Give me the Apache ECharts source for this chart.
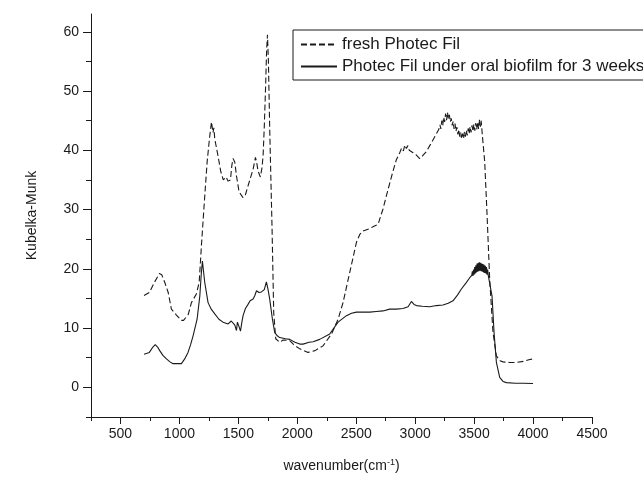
<!DOCTYPE html>
<html>
<head>
<meta charset="utf-8">
<script src="https://cdn.jsdelivr.net/npm/echarts@6/dist/echarts.min.js"></script>
<style>
html,body{margin:0;padding:0;background:#fff;}
#chart{width:643px;height:478px;}
</style>
</head>
<body>
<div id="chart"></div>
<script>
// ---- data ----
const seriesNames = ['fresh Photec Fil', 'Photec Fil under oral biofilm for 3 weeks'];

const xMajorTicks = [500, 1000, 1500, 2000, 2500, 3000, 3500, 4000, 4500];
const xMinorTicks = [250, 750, 1250, 1750, 2250, 2750, 3250, 3750, 4250];
const yMajorTicks = [0, 10, 20, 30, 40, 50, 60];
const yMinorTicks = [-5, 5, 15, 25, 35, 45, 55];

const freshX = [700,745,790,830,850,876,905,932,975,1015,1035,1075,1102,1145,1168,1187,1215,1235,1255,1272,1285,1292,1300,1328,1350,1372,1395,1413,1433,1445,1455,1470,1484,1506,1540,1560,1582,1625,1645,1655,1667,1687,1700,1710,1720,1730,1740,1747,1755,1766,1786,1800,1817,1851,1880,1936,1970,2021,2091,2106,2150,2218,2290,2346,2388,2445,2502,2530,2558,2615,2650,2685,2727,2770,2812,2840,2869,2885,2900,2912,2926,2938,2950,2966,2982,3010,3039,3060,3095,3130,3166,3200,3210,3218,3226,3234,3242,3250,3258,3266,3274,3282,3290,3298,3306,3314,3322,3330,3338,3346,3354,3362,3370,3378,3386,3394,3402,3410,3418,3426,3434,3442,3450,3458,3466,3474,3482,3490,3498,3506,3514,3522,3530,3538,3546,3554,3560,3570,3590,3609,3632,3660,3689,3720,3745,3800,3859,3920,3972,4000];
const freshY = [15.5,16.0,17.8,19.2,19.0,17.7,16.0,13.2,12.2,11.3,11.3,12.3,14.3,15.8,17.8,24.0,32.3,38.0,42.0,44.8,43.0,43.8,41.9,39.0,36.5,35.0,35.5,34.8,35.0,37.5,38.6,38.0,35.7,33.0,32.0,32.5,34.0,36.8,38.8,38.0,36.5,35.5,37.0,39.1,44.0,50.0,57.0,59.5,55.0,43.6,26.7,12.6,8.2,7.6,8.0,7.9,7.2,6.5,5.9,5.9,6.2,7.0,9.0,11.5,14.3,19.4,24.5,25.8,26.4,26.8,27.2,27.5,30.1,33.4,36.5,38.4,39.6,40.4,39.9,40.9,40.3,40.8,40.0,40.2,39.6,39.2,38.6,39.0,39.8,41.0,42.3,43.5,44.3,43.6,45.0,44.2,45.6,44.8,46.2,45.1,46.4,45.3,46.0,44.8,45.4,44.2,44.9,43.6,44.5,43.2,43.9,42.7,43.5,42.3,43.0,41.9,42.8,42.0,43.1,42.3,43.4,42.5,43.7,42.8,44.0,43.0,44.2,43.2,44.4,43.3,44.6,43.5,44.8,43.6,45.2,44.0,45.0,42.5,38.0,29.5,18.3,9.3,5.3,4.5,4.3,4.2,4.2,4.4,4.7,4.8];

const agedX = [700,745,775,795,815,833,860,890,920,946,985,1017,1045,1073,1095,1116,1150,1173,1185,1195,1205,1215,1243,1270,1300,1335,1370,1413,1440,1455,1470,1484,1492,1497,1505,1518,1530,1540,1560,1582,1600,1625,1640,1654,1675,1696,1720,1738,1752,1766,1789,1808,1830,1851,1900,1936,1980,2021,2049,2100,2134,2190,2275,2346,2417,2460,2502,2560,2615,2670,2727,2784,2841,2897,2940,2968,2990,3011,3060,3124,3180,3236,3280,3321,3360,3392,3430,3463,3480,3485,3490,3495,3500,3505,3510,3515,3520,3525,3530,3535,3540,3545,3550,3555,3560,3565,3570,3575,3580,3585,3590,3595,3600,3605,3610,3615,3620,3632,3652,3669,3689,3717,3745,3774,3850,3915,4000];
const agedY = [5.6,5.9,6.8,7.2,6.8,6.2,5.4,4.8,4.3,4.0,4.0,4.0,4.8,5.9,7.2,8.7,11.5,15.4,19.0,21.3,19.5,17.7,14.3,13.2,12.4,11.5,11.0,10.7,11.2,11.3,10.5,9.6,11.0,11.2,10.3,9.5,11.0,12.1,13.3,14.0,14.6,14.9,15.5,16.3,16.0,16.1,16.5,17.8,16.5,14.9,11.5,9.3,8.7,8.4,8.2,8.1,7.6,7.3,7.3,7.6,7.7,8.1,9.0,11.0,12.1,12.5,12.7,12.7,12.7,12.8,12.9,13.2,13.2,13.3,13.6,14.5,14.0,13.8,13.7,13.6,13.8,13.9,14.2,14.6,15.6,16.6,17.6,18.5,18.9,19.6,18.8,19.9,19.0,20.3,19.2,20.6,19.4,20.9,19.5,21.0,19.6,21.1,19.7,21.0,19.6,20.9,19.5,20.8,19.4,20.7,19.3,20.5,19.2,20.3,19.0,19.9,18.9,18.8,15.4,9.3,4.2,1.7,1.0,0.8,0.7,0.7,0.65];

// ---- chart ----
const zip = (xs, ys) => xs.map((x, i) => [x, ys[i]]);
const ink = '#1a1a1a';
const font = '"Liberation Sans", Arial, sans-serif';
const plain = v => String(v);

const chart = echarts.init(document.getElementById('chart'), null, {renderer: 'canvas'});
chart.setOption({
  animation: false,
  backgroundColor: '#fff',
  grid: {left: 91, right: 51, top: 14, bottom: 60},
  legend: {
    orient: 'vertical',
    left: 293, top: 30,
    padding: [6, 60, 5, 7],
    itemGap: 5,
    itemWidth: 36, itemHeight: 14,
    borderColor: ink, borderWidth: 1, borderRadius: 0,
    itemStyle: {opacity: 0},
    textStyle: {color: ink, fontSize: 17, fontFamily: font},
    data: seriesNames
  },
  xAxis: [{
    type: 'value', min: 250, max: 4500,
    splitLine: {show: false},
    axisLine: {onZero: false, lineStyle: {color: ink, width: 1}},
    axisTick: {customValues: xMajorTicks, length: 7, lineStyle: {color: ink}},
    axisLabel: {customValues: xMajorTicks, formatter: plain, margin: 10, color: ink, fontSize: 14, fontFamily: font},
    name: 'wavenumber(cm{sup|-1})',
    nameLocation: 'middle', nameGap: 41,
    nameTextStyle: {color: ink, fontSize: 14, fontFamily: font,
      rich: {sup: {fontSize: 9, color: ink, fontFamily: font, padding: [0, 0, 7, 0]}}}
  }, {
    type: 'value', min: 250, max: 4500, position: 'bottom',
    splitLine: {show: false},
    axisLine: {show: false, onZero: false},
    axisTick: {customValues: xMinorTicks, length: 4, lineStyle: {color: ink}},
    axisLabel: {show: false}
  }],
  yAxis: [{
    type: 'value', min: -5, max: 63,
    splitLine: {show: false},
    axisLine: {show: true, onZero: false, lineStyle: {color: ink, width: 1}},
    axisTick: {show: true, customValues: yMajorTicks, length: 8, lineStyle: {color: ink}},
    axisLabel: {customValues: yMajorTicks, formatter: plain, margin: 12, color: ink, fontSize: 14, fontFamily: font},
    name: 'Kubelka-Munk', nameLocation: 'middle', nameGap: 52,
    nameTextStyle: {color: ink, fontSize: 14, fontFamily: font}
  }, {
    type: 'value', min: -5, max: 63, position: 'left',
    splitLine: {show: false},
    axisLine: {show: false, onZero: false},
    axisTick: {show: true, customValues: yMinorTicks, length: 5, lineStyle: {color: ink}},
    axisLabel: {show: false}
  }],
  series: [{
    name: seriesNames[0], type: 'line', xAxisIndex: 0, yAxisIndex: 0,
    symbol: 'none', smooth: false,
    lineStyle: {color: ink, width: 1.1, type: [6, 3]},
    itemStyle: {color: ink},
    data: zip(freshX, freshY)
  }, {
    name: seriesNames[1], type: 'line', xAxisIndex: 0, yAxisIndex: 0,
    symbol: 'none', smooth: false,
    lineStyle: {color: ink, width: 1.1},
    itemStyle: {color: ink},
    data: zip(agedX, agedY)
  }]
});
</script>
</body>
</html>
